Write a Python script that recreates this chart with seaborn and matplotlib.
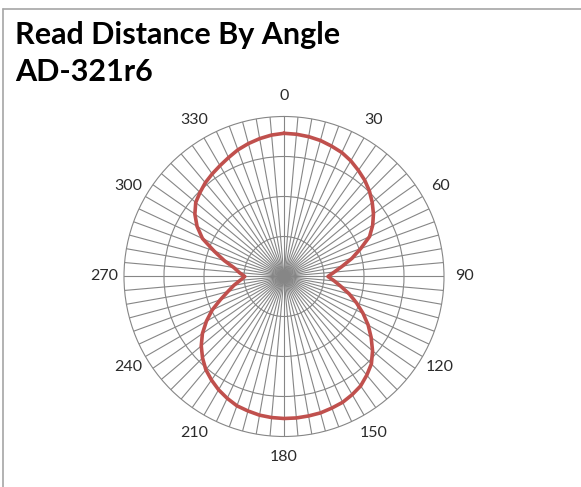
"""
plot.py — Excel-style radar chart of read distance by angle (AD-321r6).
"""

import matplotlib

matplotlib.use("Agg")
import matplotlib.pyplot as plt
import numpy as np
import pandas as pd
import seaborn as sns

# angle of the tag (degrees, clockwise from top) and read distance
angles_deg = list(range(0, 360, 5))
distance = [
    3.58, 3.57, 3.55, 3.52, 3.47, 3.42, 3.34, 3.24, 3.14, 3.02, 2.88, 2.73,
    2.56, 2.36, 2.04, 1.76, 1.48, 1.26, 1.10, 1.26, 1.45, 1.69, 1.93, 2.18,
    2.43, 2.66, 2.89, 3.09, 3.22, 3.34, 3.41, 3.47, 3.50, 3.53, 3.54, 3.55,
    3.55, 3.54, 3.52, 3.48, 3.44, 3.36, 3.27, 3.16, 3.04, 2.88, 2.70, 2.49,
    2.24, 1.98, 1.69, 1.45, 1.27, 1.10, 0.98, 1.12, 1.27, 1.55, 1.86, 2.25,
    2.51, 2.72, 2.88, 2.97, 3.06, 3.13, 3.20, 3.28, 3.37, 3.44, 3.50, 3.55,
]
ring_values = [1, 2, 3]
r_max = 4
label_step = 30

title_lines = ["Read Distance By Angle", "AD-321r6"]

sns.set_style("white")
plt.rcParams["font.family"] = ["Lato", "DejaVu Sans"]

# close the loop like a radar chart does
df = pd.DataFrame({"angle": angles_deg + [360], "distance": distance + [distance[0]]})
df["theta"] = np.deg2rad(df["angle"])

fig = plt.figure(figsize=(5.81, 4.87), dpi=100)
ax = fig.add_axes([0.2134, 0.1037, 0.5508, 0.6571], projection="polar")
ax.set_theta_zero_location("N")
ax.set_theta_direction(-1)

sns.lineplot(
    data=df,
    x="theta",
    y="distance",
    sort=False,
    estimator=None,
    color="#C0504D",
    linewidth=2.6,
    ax=ax,
    zorder=5,
)

grid_color = "#868686"
ax.set_ylim(0, r_max)
ax.set_yticks(ring_values)
ax.set_yticklabels([])
tick_labels = [str(a) if a % label_step == 0 else "" for a in angles_deg]
ax.set_xticks(np.deg2rad(angles_deg))
ax.set_xticklabels(tick_labels)
ax.tick_params(axis="x", pad=4, labelsize=11.5, labelcolor="#2B2B2B")
ax.grid(True, color=grid_color, linewidth=0.8)
ax.spines["polar"].set_color(grid_color)
ax.spines["polar"].set_linewidth(0.8)
ax.set_xlabel("")
ax.set_ylabel("")

fig.text(15 / 581, 1 - 21 / 487, "\n".join(title_lines), ha="left", va="top",
         fontsize=22, fontweight="bold", color="black", linespacing=1.38)

# chart-area frame (only top and left edges visible in the crop)
fig.add_artist(plt.Line2D([3 / 581, 1], [1 - 9 / 487, 1 - 9 / 487],
                          transform=fig.transFigure, color="#A6A6A6", linewidth=1.2))
fig.add_artist(plt.Line2D([3 / 581, 3 / 581], [0, 1 - 9 / 487],
                          transform=fig.transFigure, color="#A6A6A6", linewidth=1.2))

fig.savefig("out.png", dpi=100)
plt.close(fig)
